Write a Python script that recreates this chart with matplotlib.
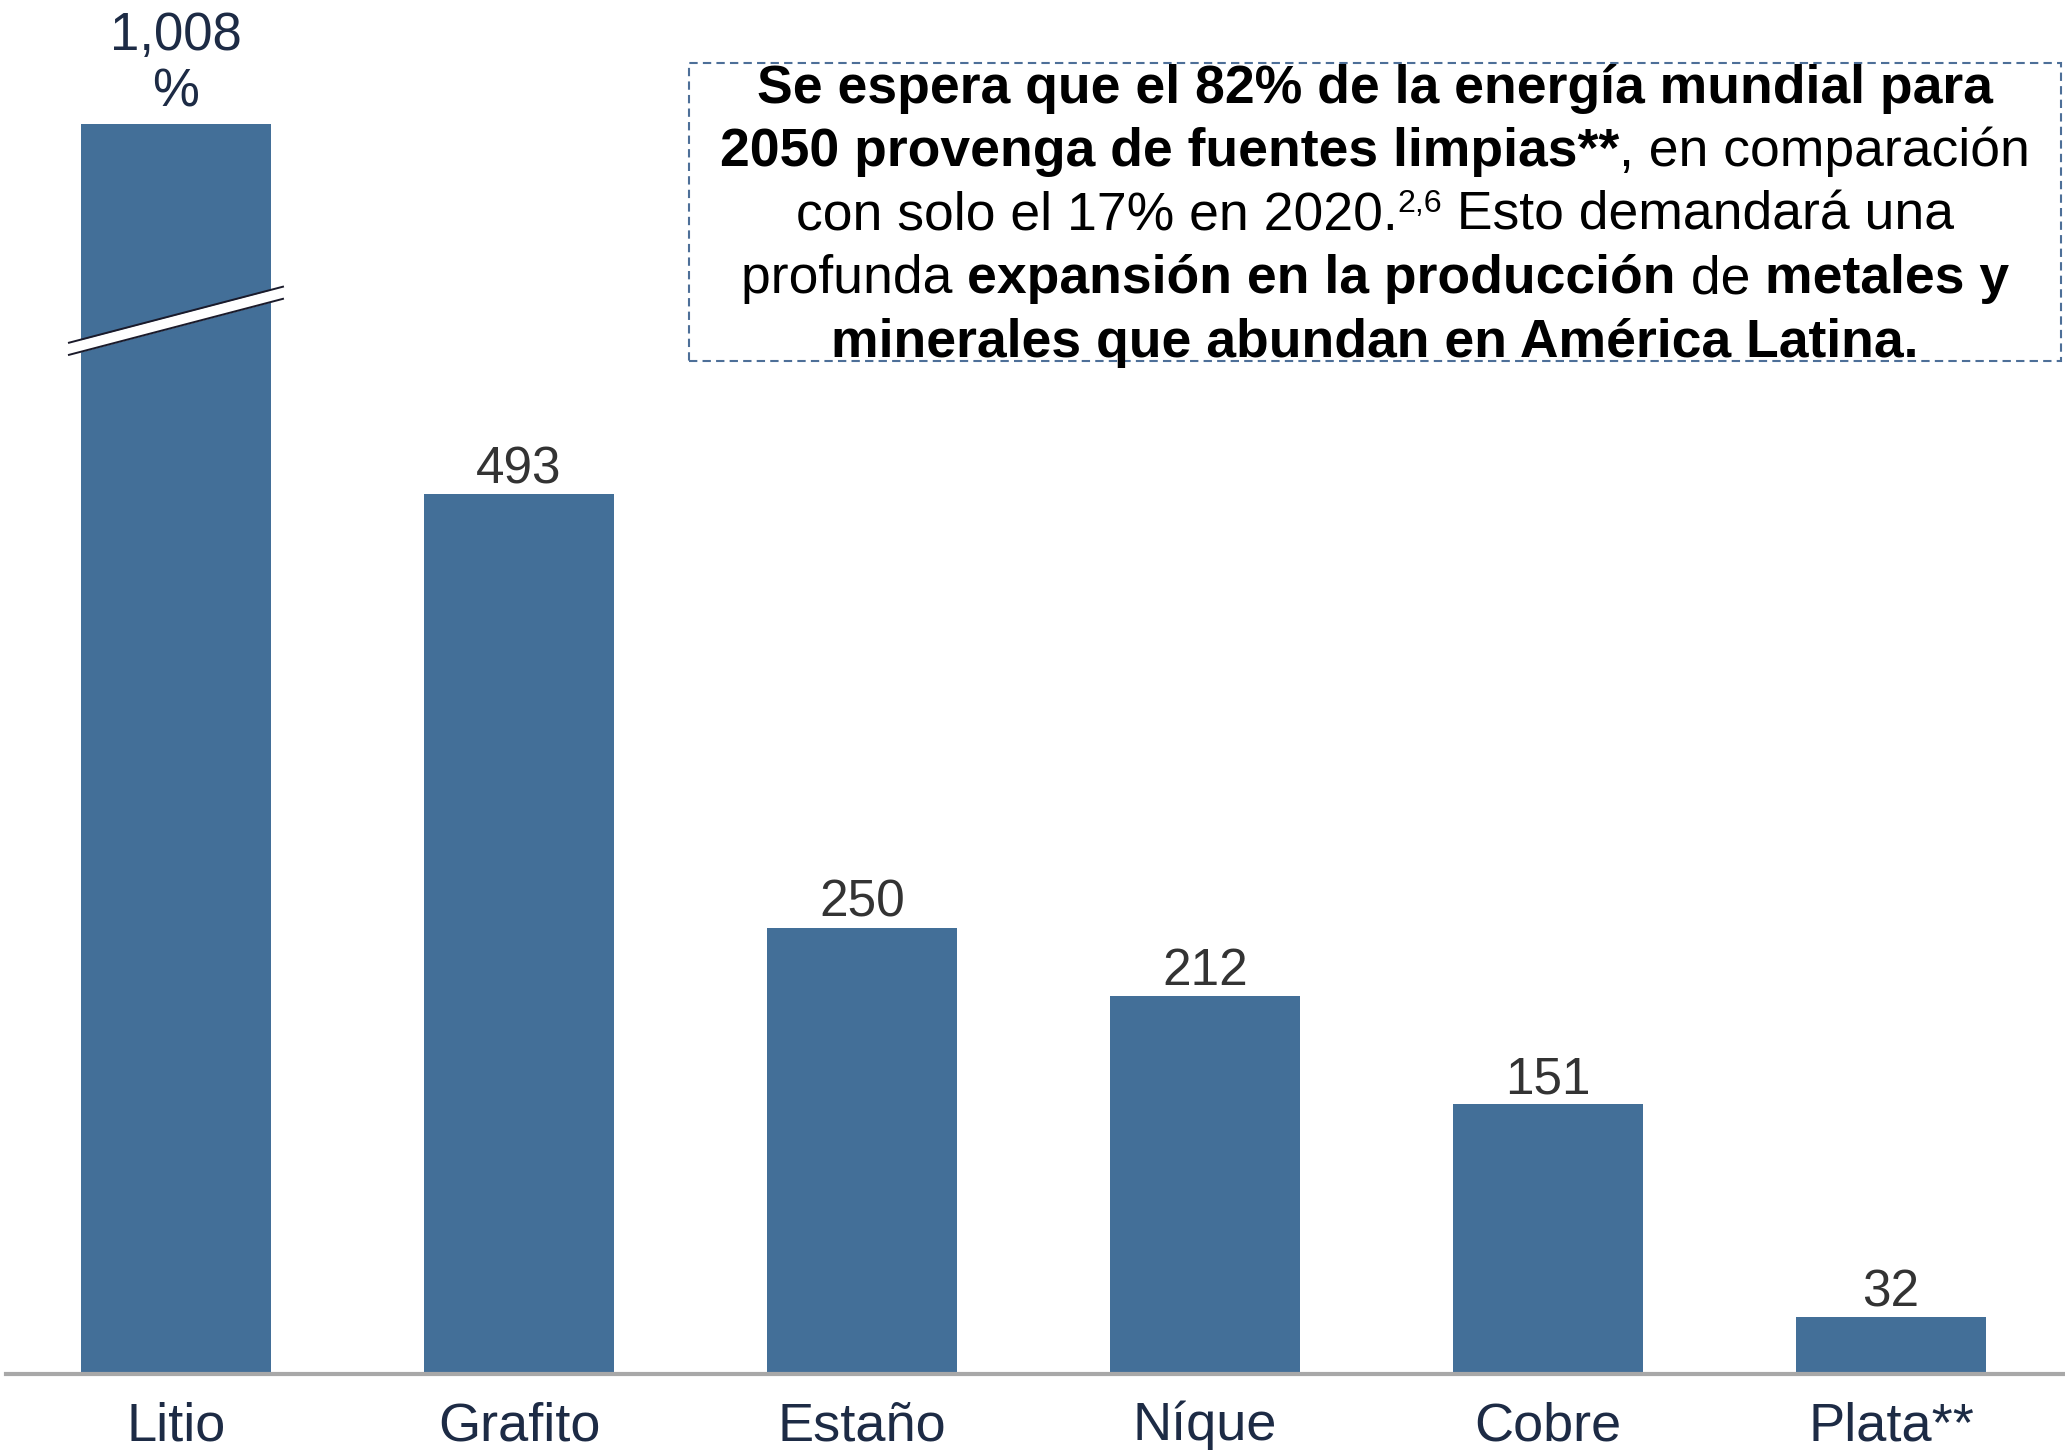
import matplotlib.pyplot as plt
from matplotlib.patches import Rectangle
from matplotlib.transforms import IdentityTransform

# datos
minerales = ["Litio", "Grafito", "Estaño", "Níque", "Cobre", "Plata**"]
valores = [1008, 493, 250, 212, 151, 32]
etiquetas = ["1,008\n%", "493", "250", "212", "151", "32"]

# texto del recuadro: (texto, estilo) por linea
lineas = [
    [("Se espera que el 82% de la energía mundial para", "bold")],
    [("2050 provenga de fuentes limpias**", "bold"), (", en comparación", "normal")],
    [("con solo el 17% en 2020.", "normal"), ("2,6", "sup"), (" Esto demandará una", "normal")],
    [("profunda ", "normal"), ("expansión en la producción", "bold"), (" de ", "normal"),
     ("metales y", "bold")],
    [("minerales que abundan en América Latina.", "bold")],
]

tope = 700  # altura dibujada de la barra cortada (Litio)
W, H = 2065, 1450

plt.rcParams['font.family'] = ['Liberation Sans', 'DejaVu Sans']

fig = plt.figure(figsize=(W / 100, H / 100), dpi=100)
ax = fig.add_axes([0, 0, 1, 1])
ax.set_xlim(-0.513, 5.507)
ax.set_ylim(-42.6, 769.7)
ax.axis('off')

x = list(range(len(minerales)))
alturas = [min(v, tope) for v in valores]
ax.bar(x, alturas, width=0.555, color='#436f98', zorder=2)
ax.axhline(0, xmin=0.003, xmax=1, color='#a8a8a8', lw=3, zorder=3)

navy = '#1d2b45'
for i, h in enumerate(alturas):
    if valores[i] > tope:
        partes = etiquetas[i].split("\n")
        ax.text(i, h + 41.7, partes[0], ha='center', va='baseline', fontsize=38, color=navy)
        ax.text(i, h + 9.8, partes[1], ha='center', va='baseline', fontsize=38, color=navy)
    else:
        ax.text(i, h + 6, etiquetas[i], ha='center', va='baseline', fontsize=37, color='#333333')
    ax.text(i, -37, minerales[i], ha='center', va='baseline', fontsize=39, color=navy)

# marca de corte en la barra de Litio
yb, dx, dy, g = 590, 0.312, 15.7, 3.4
bx = [0 - dx, 0 + dx]
by = [yb - dy, yb + dy]
ax.fill_between(bx, [v - g for v in by], [v + g for v in by], color='white', zorder=4, lw=0)
ax.plot(bx, [v + g for v in by], color='#1a1a2a', lw=1.4, zorder=5)
ax.plot(bx, [v - g for v in by], color='#1a1a2a', lw=1.4, zorder=5)

# recuadro punteado
x0, y0, x1, y1 = 689, 63, 2061, 361
fig.add_artist(Rectangle((x0 / W, 1 - y1 / H), (x1 - x0) / W, (y1 - y0) / H,
                         transform=fig.transFigure, fill=False, edgecolor='#4d6f98',
                         lw=1.5, linestyle=(0, (4, 2.5))))

renderer = fig.canvas.get_renderer()
fs = 38.5


def ancho(s, **kw):
    t = fig.text(0, 0, "|" + s + "|", **kw)
    t2 = fig.text(0, 0, "||", **kw)
    w = t.get_window_extent(renderer).width - t2.get_window_extent(renderer).width
    t.remove()
    t2.remove()
    return w


xc = (x0 + x1) / 2
for k, segs in enumerate(lineas):
    base = H - (103 + 63.4 * k)
    props = []
    for s, estilo in segs:
        if estilo == "bold":
            kw = dict(fontsize=fs, fontweight='bold')
        elif estilo == "sup":
            kw = dict(fontsize=fs * 0.6)
        else:
            kw = dict(fontsize=fs)
        props.append((s, estilo, kw, ancho(s, **kw)))
    total = sum(p[3] for p in props)
    xs = xc - total / 2
    for s, estilo, kw, w in props:
        yy = base + (18 if estilo == "sup" else 0)
        fig.text(xs, yy, s, transform=IdentityTransform(), ha='left', va='baseline',
                 color='black', **kw)
        xs += w

fig.savefig("out.png", dpi=100)
